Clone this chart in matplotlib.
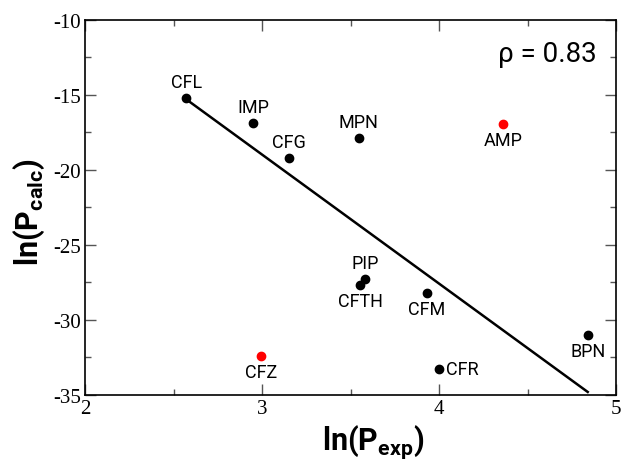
import matplotlib
matplotlib.use("Agg")
import matplotlib.pyplot as plt
from matplotlib.ticker import MultipleLocator

# data
names = ["CFL", "IMP", "CFG", "MPN", "AMP", "PIP", "CFTH", "CFM", "CFR", "BPN", "CFZ"]
ln_exp = [2.57, 2.95, 3.15, 3.545, 4.36, 3.58, 3.555, 3.93, 4.0, 4.84, 2.995]
ln_calc = [-15.2, -16.9, -19.2, -17.9, -16.95, -27.3, -27.7, -28.2, -33.25, -31.0, -32.4]
outlier = ["AMP", "CFZ"]
# label placement: above / below / right
where = ["up", "up", "up", "up", "down", "up", "down", "down", "right", "down", "down"]

fit_x = [2.57, 4.84]
fit_y = [-15.3, -34.8]
rho = 0.83

plt.rcParams['mathtext.fontset'] = 'custom'
plt.rcParams['mathtext.bf'] = 'Roboto:bold'
plt.rcParams['mathtext.rm'] = 'Roboto'
plt.rcParams['axes.unicode_minus'] = False

fig = plt.figure(figsize=(6.21, 4.64), dpi=100)
ax = fig.add_axes([0.1374, 0.1466, 0.8546, 0.8088])

ax.plot(fit_x, fit_y, color="black", lw=1.8, zorder=2)

for n, x, y, w in zip(names, ln_exp, ln_calc, where):
    c = "red" if n in outlier else "black"
    ax.plot(x, y, "o", color=c, ms=6, zorder=3)
    if w == "up":
        ax.annotate(n, (x, y), xytext=(0, 5), textcoords="offset points",
                    ha="center", va="bottom", fontsize=13, family="Roboto")
    elif w == "down":
        ax.annotate(n, (x, y), xytext=(0, -5), textcoords="offset points",
                    ha="center", va="top", fontsize=13, family="Roboto")
    else:
        ax.annotate(n, (x, y), xytext=(5, 0), textcoords="offset points",
                    ha="left", va="center", fontsize=13, family="Roboto")

ax.text(0.963, 0.91, f"ρ = {rho:.2f}", transform=ax.transAxes,
        ha="right", va="center", fontsize=20, family="Roboto")

ax.set_xlim(2, 5)
ax.set_ylim(-35, -10)
ax.xaxis.set_major_locator(MultipleLocator(1))
ax.xaxis.set_minor_locator(MultipleLocator(0.5))
ax.yaxis.set_major_locator(MultipleLocator(5))
ax.yaxis.set_minor_locator(MultipleLocator(2.5))
ax.tick_params(which="both", direction="in", top=True, right=True,
               color="#555555", width=1)
ax.tick_params(which="major", length=8, labelsize=15, pad=3)
ax.tick_params(which="minor", length=4)
for lab in ax.get_xticklabels() + ax.get_yticklabels():
    lab.set_family("Liberation Serif")
for s in ax.spines.values():
    s.set_linewidth(1.2)

ax.set_xlabel(r"$\mathbf{ln(P_{exp})}$", fontsize=22)
ax.set_ylabel(r"$\mathbf{ln(P_{calc})}$", fontsize=22)
ax.xaxis.set_label_coords(0.542, -0.072)
ax.yaxis.set_label_coords(-0.072, 0.49)

fig.savefig("out.png", dpi=100)
